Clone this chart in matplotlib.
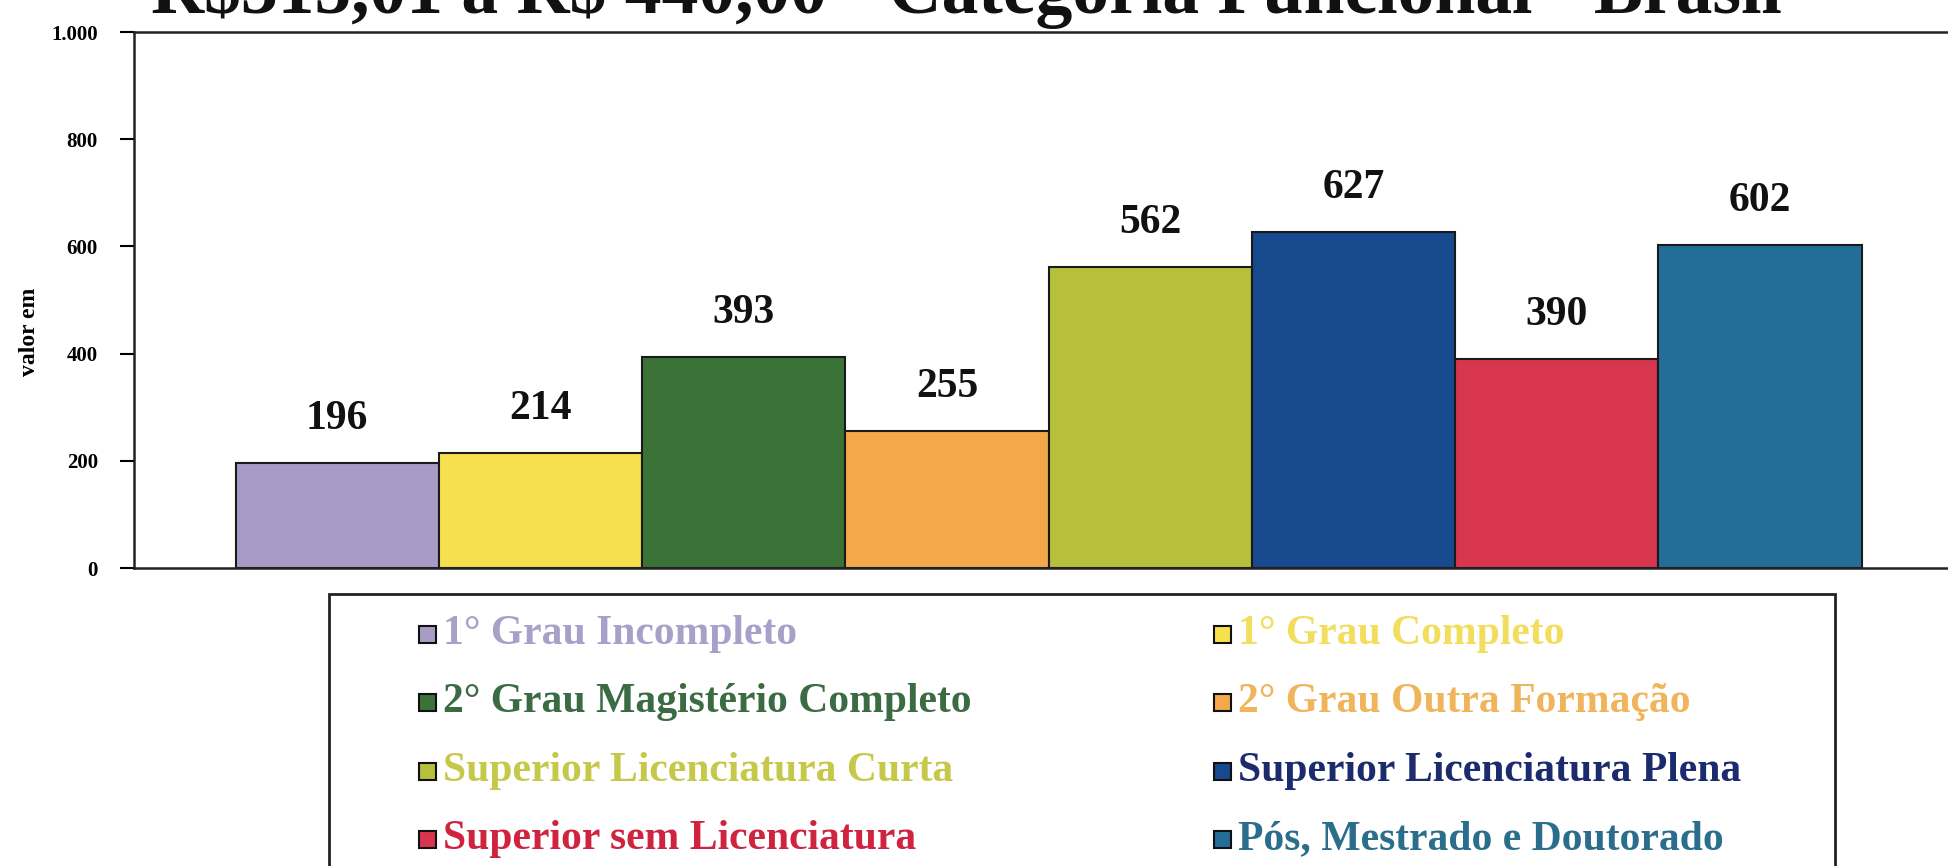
import numpy as np
import matplotlib.pyplot as plt
from matplotlib.patches import Rectangle

# ---- dados ----
categorias = ['1° Grau Incompleto', '1° Grau Completo',
              '2° Grau Magistério Completo', '2° Grau Outra Formação',
              'Superior Licenciatura Curta', 'Superior Licenciatura Plena',
              'Superior sem Licenciatura', 'Pós, Mestrado e Doutorado']
valores = [196, 214, 393, 255, 562, 627, 390, 602]
cores = ['#A99BC6', '#F7E04E', '#3B7238', '#F3A94A',
         '#B6C03A', '#17498E', '#D8364F', '#236E99']
cores_texto = ['#A8A0C8', '#F2DE5C', '#3A6B42', '#F0B45A',
               '#C6C84A', '#1C2A6E', '#CF2340', '#2A6E8C']
yticks = [0, 200, 400, 600, 800, 1000]
ytick_labels = ['0', '200', '400', '600', '800', '1.000']
titulo = r'R\$315,01 a R\$ 440,00 - Categoria Funcional - Brasil'

plt.rcParams['font.family'] = ['Liberation Serif', 'DejaVu Serif']

W, H = 1949, 866
fig = plt.figure(figsize=(W / 100, H / 100), dpi=100)
ax = fig.add_axes([134 / W, 1 - 568 / H, 1 - 134 / W, 536 / H])

x = np.arange(len(valores))
ax.bar(x, valores, width=1.0, color=cores, edgecolor='#1a1a1a', linewidth=1.5, zorder=2)

for xi, v in zip(x, valores):
    ax.text(xi, v + 82, str(v), ha='center', va='center',
            fontsize=30, fontweight='bold', color='#111111')

ax.set_xlim(-1.0, 7.93)
ax.set_ylim(0, 1000)
ax.set_xticks([])
ax.set_yticks(yticks)
ax.set_yticklabels(ytick_labels, fontsize=15, fontweight='bold')
ax.tick_params(axis='y', direction='out', length=10, width=1.5, pad=16)
ax.set_ylabel('valor em', fontsize=17, fontweight='bold')
ax.yaxis.set_label_coords(-0.052, 0.44)
for s in ['left', 'bottom', 'top']:
    ax.spines[s].set_linewidth(1.8)
    ax.spines[s].set_color('#222222')
ax.spines['right'].set_visible(False)

# titulo (cortado no topo, como no original)
fig.text(0.496, 1 - 13 / H, titulo, ha='center', va='baseline',
         fontsize=53, fontweight='bold', color='#111111')

# ---- legenda manual ----
box = Rectangle((329 / W, -0.05), (1835 - 329) / W, (0.05 + 1 - 594 / H),
                transform=fig.transFigure, fill=False, edgecolor='#222222',
                linewidth=2)
fig.add_artist(box)
linhas_y = [634, 702, 771, 839]
col_x = [419, 1214]
for i, (lab, c, ct) in enumerate(zip(categorias, cores, cores_texto)):
    col = i % 2
    row = i // 2
    yc = 1 - linhas_y[row] / H
    sq = 17
    fig.add_artist(Rectangle((col_x[col] / W, yc - sq / 2 / H), sq / W, sq / H,
                             transform=fig.transFigure, facecolor=c,
                             edgecolor='#111111', linewidth=1.5))
    fig.text((col_x[col] + 24) / W, yc, lab, ha='left', va='center',
             fontsize=30, fontweight='bold', color=ct)

fig.savefig('out.png', dpi=100)
